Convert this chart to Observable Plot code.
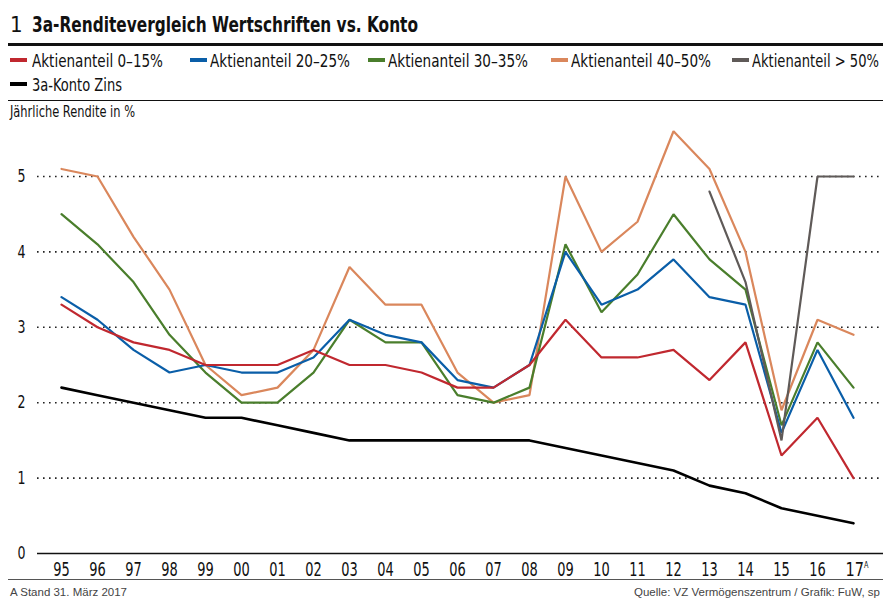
<!DOCTYPE html>
<html>
<head>
<meta charset="utf-8">
<script src="https://cdn.jsdelivr.net/npm/d3@7"></script>
<script src="https://cdn.jsdelivr.net/npm/@observablehq/plot@0.6"></script>
<style>
  html, body { margin: 0; padding: 0; background: #fff; }
  #wrap { position: relative; width: 883px; height: 601px; overflow: hidden;
          font-family: "Liberation Sans Narrow", "DejaVu Sans Condensed", "Roboto Condensed", sans-serif; color: #111; }
  .abs { position: absolute; white-space: nowrap; transform-origin: 0 50%; }
  #num { left: 10px; top: 14px; font-size: 22px; line-height: 22px; }
  #title { left: 32px; top: 14px; font-size: 22px; line-height: 22px; font-weight: bold; }
  .rule { position: absolute; left: 8px; right: 0; }
  .leg { position: absolute; font-size: 18px; line-height: 18px; white-space: nowrap; transform-origin: 0 50%; }
  .sw { position: absolute; width: 17px; height: 4px; }
  #ylab { left: 10px; top: 105px; font-size: 15px; line-height: 15px; }
  .foot { position: absolute; top: 586px; font-family: "Liberation Sans", Arial, sans-serif; font-size: 11.5px; line-height: 12px; color: #444; white-space: nowrap; }
  #chart { position: absolute; left: 0; top: 120px; }
</style>
</head>
<body>
<div id="wrap">
  <div id="num" class="abs">1</div>
  <div id="title" class="abs">3a-Renditevergleich Wertschriften vs. Konto</div>
  <div class="rule" style="top:43px;height:3px;background:#111;"></div>
  <div id="legend"></div>
  <div class="rule" style="top:100px;height:1px;background:#111;"></div>
  <div id="ylab" class="abs">Jährliche Rendite in %</div>
  <div id="chart"></div>
  <div class="rule" style="top:579px;height:1px;background:#555;"></div>
  <div class="foot" style="left:10px;">A Stand 31. März 2017</div>
  <div class="foot" style="right:3px;">Quelle: VZ Vermögenszentrum / Grafik: FuW, sp</div>
</div>
<script>
// ---- data ----
const years = ["95","96","97","98","99","00","01","02","03","04","05","06","07","08","09","10","11","12","13","14","15","16","17"];
const aktien0_15  = [3.3,3.0,2.8,2.7,2.5,2.5,2.5,2.7,2.5,2.5,2.4,2.2,2.2,2.5,3.1,2.6,2.6,2.7,2.3,2.8,1.3,1.8,1.0];
const aktien20_25 = [3.4,3.1,2.7,2.4,2.5,2.4,2.4,2.6,3.1,2.9,2.8,2.3,2.2,2.5,4.0,3.3,3.5,3.9,3.4,3.3,1.6,2.7,1.8];
const aktien30_35 = [4.5,4.1,3.6,2.9,2.4,2.0,2.0,2.4,3.1,2.8,2.8,2.1,2.0,2.2,4.1,3.2,3.7,4.5,3.9,3.5,1.7,2.8,2.2];
const aktien40_50 = [5.1,5.0,4.2,3.5,2.5,2.1,2.2,2.7,3.8,3.3,3.3,2.4,2.0,2.1,5.0,4.0,4.4,5.6,5.1,4.0,1.9,3.1,2.9];
const aktien50plus = [null,null,null,null,null,null,null,null,null,null,null,null,null,null,null,null,null,null,4.8,3.6,1.5,5.0,5.0];
const kontoZins   = [2.2,2.1,2.0,1.9,1.8,1.8,1.7,1.6,1.5,1.5,1.5,1.5,1.5,1.5,1.4,1.3,1.2,1.1,0.9,0.8,0.6,0.5,0.4];
const seriesNames = ["Aktienanteil 0–15%","Aktienanteil 20–25%","Aktienanteil 30–35%","Aktienanteil 40–50%","Aktienanteil > 50%","3a-Konto Zins"];
const seriesColors = ["#c0282f","#0a5ea8","#4a7e2c","#da875c","#5f5a58","#000000"];
const yTicks = [0,1,2,3,4,5];
const footnoteMark = "A";

const seriesValues = [aktien0_15, aktien20_25, aktien30_35, aktien40_50, aktien50plus, kontoZins];
const table = seriesValues.map((vals, s) =>
  years.map((y, i) => ({year: y, value: vals[i], series: seriesNames[s]})).filter(d => d.value != null)
);

// fit a text element horizontally to a target width (condensed face substitute)
function fitWidth(el, target) {
  const w = el.getBoundingClientRect().width;
  if (w > 0) el.style.transform = `scaleX(${target / w})`;
}

// ---- legend ----
const legendPos = [[10,52],[190,52],[368,52],[551,52],[732,52],[10,76]];
const legendW = [131,140,140,140,127,90];
const legend = document.getElementById("legend");
seriesNames.forEach((name, i) => {
  const [lx, ly] = legendPos[i];
  const sw = document.createElement("div");
  sw.className = "sw";
  sw.style.left = lx + "px";
  sw.style.top = (ly + 6) + "px";
  sw.style.background = seriesColors[i];
  legend.appendChild(sw);
  const t = document.createElement("div");
  t.className = "leg";
  t.style.left = (lx + (i === 0 || i === 5 ? 22 : 20)) + "px";
  t.style.top = ly + "px";
  t.textContent = name;
  legend.appendChild(t);
  fitWidth(t, legendW[i]);
});
fitWidth(document.getElementById("title"), 386);
fitWidth(document.getElementById("ylab"), 125);

// ---- chart ----
const lineOrder = [3, 2, 1, 0, 4, 5];
const plot = Plot.plot({
  width: 883,
  height: 455,
  marginLeft: 37,
  marginRight: 0,
  marginTop: 56,
  marginBottom: 22,
  style: {fontFamily: "'Liberation Sans Narrow', 'DejaVu Sans Condensed', sans-serif", color: "#111", background: "transparent", overflow: "visible"},
  x: {type: "point", domain: years, range: [53, 860], padding: 0},
  y: {domain: [0, 5]},
  marks: [
    Plot.ruleY(yTicks.filter(d => d > 0), {stroke: "#222", strokeWidth: 1.6, strokeDasharray: "1.6,4.4"}),
    Plot.ruleY([0], {stroke: "#111", strokeWidth: 1.6}),
    Plot.axisY(yTicks, {tickSize: 0, tickPadding: 12, fontSize: 18, tickFormat: d => String(d), label: null}),
    Plot.axisX({tickSize: 0, tickPadding: 8, fontSize: 20, label: null}),
    ...lineOrder.map(s => Plot.line(table[s], {
      x: "year", y: "value",
      stroke: seriesColors[s],
      strokeWidth: s === 5 ? 2.6 : 2.2,
      strokeLinejoin: "miter"
    }))
  ]
});
document.getElementById("chart").appendChild(plot);

// condense axis labels
const lastYear = years[years.length - 1];
d3.select(plot).selectAll('g[aria-label="x-axis tick label"] text')
  .attr("textLength", 16.5).attr("lengthAdjust", "spacingAndGlyphs");
d3.select(plot).selectAll('g[aria-label="y-axis tick label"] text')
  .attr("textLength", 8).attr("lengthAdjust", "spacingAndGlyphs");

// superscript footnote mark on last year label (same text element)
d3.select(plot).selectAll('g[aria-label="x-axis tick label"] text')
  .filter(function() { return this.textContent === lastYear; })
  .attr("textLength", 23)
  .attr("dx", 3.5)
  .append("tspan")
  .attr("font-size", 9)
  .attr("dy", "-0.9em")
  .text(footnoteMark);
</script>
</body>
</html>
